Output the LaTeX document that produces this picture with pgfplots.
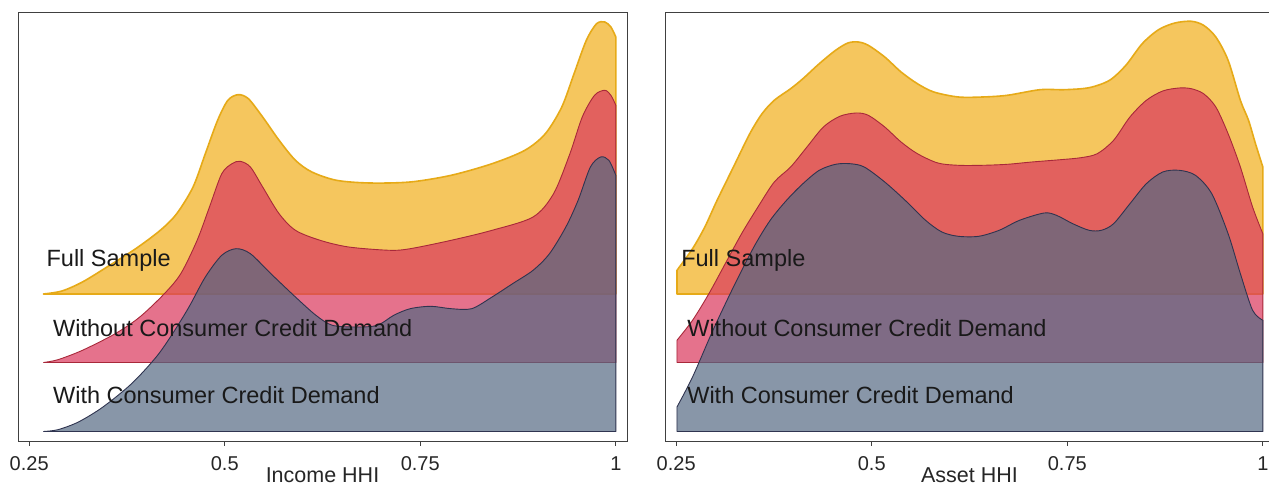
\documentclass[border=0pt]{standalone}
\usepackage{pgfplots}
\pgfplotsset{compat=1.18}
\usepackage{fontspec}
\setmainfont{Liberation Sans}
\definecolor{yfill}{HTML}{F5C65E}
\definecolor{yline}{HTML}{E6AA18}
\definecolor{rfill}{HTML}{DB3B5F}
\definecolor{rline}{HTML}{A8283A}
\definecolor{gfill}{HTML}{556983}
\definecolor{gline}{HTML}{2F3450}
\pgfplotsset{
ridgebox/.style={scale only axis, width=609pt, height=429pt,
  xmin=0.2357, xmax=1.0143, clip=false},
ridgeframe/.style={ridgebox,
  xtick={0.25,0.5,0.75,1}, xticklabels={0.25,0.5,0.75,1},
  ytick=\empty, xtick pos=left, tick align=outside, major tick length=5pt,
  axis line style={black!75, line width=0.8pt},
  every tick/.style={black!75, line width=0.8pt},
  xticklabel style={font=\fontsize{20}{24}\selectfont, text=black!85, anchor=base, inner sep=0pt, yshift=-24.5pt},
  xlabel style={font=\fontsize{21.5}{26}\selectfont, text=black!85, at={(axis description cs:0.5,0)}, anchor=base, inner sep=0pt, yshift=-42pt}},
ridgeover/.style={ridgebox, hide axis},
}
\tikzset{
  yelA/.style={smooth, tension=0.5, fill=yfill, draw=yline, line width=1.6pt, line join=round},
  redA/.style={smooth, tension=0.5, fill=rfill, fill opacity=0.72, draw=rline, draw opacity=1, line width=0.9pt, line join=round},
  gryA/.style={smooth, tension=0.5, fill=gfill, fill opacity=0.70, draw=gline, draw opacity=1, line width=0.9pt, line join=round},
  lab/.style={anchor=base west, inner sep=0pt, font=\fontsize{23.5}{28}\selectfont, text=black!90},
}
\begin{document}
\begin{tikzpicture}
\useasboundingbox (0,0) rectangle (1269pt,486pt);
% ================= left panel: Income HHI =================
% Full Sample (heights above its baseline)
\begin{axis}[ridgeframe, at={(18pt,45pt)}, anchor=south west, ymin=-147, ymax=282, xlabel={Income HHI}]
\addplot[yelA] coordinates {
(0.2683,0) (0.2919,3) (0.3181,12) (0.3495,27) (0.3862,45.3) (0.4176,63.7) (0.4386,80.3)
(0.4595,107) (0.4752,140.3) (0.4909,173.7) (0.5040,193.7) (0.5171,199.3) (0.5302,195.3)
(0.5485,177) (0.5695,153.7) (0.5904,133.7) (0.6114,122) (0.6428,113.7) (0.6847,111)
(0.7371,112) (0.7895,118.7) (0.8418,130.3) (0.8837,143.7) (0.9099,160.3) (0.9309,187)
(0.9466,220.3) (0.9623,253.7) (0.9754,270.3) (0.9859,272) (0.9937,267) (1.0,257)} \closedcycle;
\end{axis}
% Without Consumer Credit Demand
\begin{axis}[ridgeover, at={(18pt,45pt)}, anchor=south west, ymin=-78.5, ymax=350.5]
\addplot[redA] coordinates {
(0.2683,0) (0.2867,2.8) (0.3181,12.2) (0.3600,28.8) (0.3914,45.5) (0.4228,68.8) (0.4438,88.8)
(0.4647,122.2) (0.4805,155.5) (0.4962,188.8) (0.5093,198.8) (0.5197,201.2) (0.5328,195.5)
(0.5485,175.5) (0.5695,148.8) (0.5904,132.2) (0.6219,122.2) (0.6585,115.5) (0.7109,112.2)
(0.7371,113.8) (0.7895,122.2) (0.8418,132.2) (0.8942,145.5) (0.9204,168.8) (0.9413,208.8)
(0.9571,245.5) (0.9728,267.2) (0.9859,272.2) (0.9937,267.2) (1.0,257.2)} \closedcycle;
\end{axis}
% With Consumer Credit Demand
\begin{axis}[ridgeover, at={(18pt,45pt)}, anchor=south west, ymin=-9.5, ymax=419.5]
\addplot[gryA] coordinates {
(0.2683,0) (0.2867,1.8) (0.3129,9.5) (0.3443,24.5) (0.3809,47.8) (0.4124,74.5) (0.4333,97.8)
(0.4543,124.5) (0.4752,154.5) (0.4962,176.2) (0.5145,182.8) (0.5328,177.8) (0.5590,157.8)
(0.5904,134.5) (0.6166,116.2) (0.6376,106.2) (0.6690,104.5) (0.6952,106.2) (0.7161,116.2)
(0.7371,122.8) (0.7633,125.2) (0.7895,122.8) (0.8157,122.8) (0.8418,134.5) (0.8680,147.8)
(0.8942,161.2) (0.9152,177.8) (0.9361,204.5) (0.9518,231.2) (0.9675,264.5) (0.9806,274.5)
(0.9911,271.2) (1.0,256.2)} \closedcycle;
\node[lab] at (axis cs:0.272,164.5) {Full Sample};
\node[lab] at (axis cs:0.2804,94.5) {Without Consumer Credit Demand};
\node[lab] at (axis cs:0.2804,27.5) {With Consumer Credit Demand};
\end{axis}
% ================= right panel: Asset HHI =================
\begin{axis}[ridgeframe, at={(665pt,45pt)}, anchor=south west, ymin=-147, ymax=282, xlabel={Asset HHI}]
\addplot[yelA] coordinates {
(0.251,23.7) (0.2709,45.3) (0.2866,67) (0.3023,93.7) (0.3232,127) (0.3441,160.3) (0.3598,180.3)
(0.3754,193.7) (0.3963,205.3) (0.4120,215.3) (0.4329,230.3) (0.4538,243.7) (0.4695,251)
(0.4826,252) (0.4956,248.7) (0.5166,237) (0.5375,222) (0.5584,210.3) (0.5793,202) (0.6106,197)
(0.6420,197) (0.6734,198.7) (0.7152,204.3) (0.7465,204.3) (0.7779,206.3) (0.8040,213.7)
(0.8249,228.7) (0.8458,250.3) (0.8667,264.3) (0.8876,271) (0.9085,272.7) (0.9242,268.7)
(0.9399,257) (0.9556,233.7) (0.9713,193.7) (0.9817,173.7) (0.9906,150.3) (1.0,127)} \closedcycle;
\end{axis}
\begin{axis}[ridgeover, at={(665pt,45pt)}, anchor=south west, ymin=-78.5, ymax=350.5]
\addplot[redA] coordinates {
(0.251,22.2) (0.2709,42.2) (0.2918,68.8) (0.3127,98.8) (0.3336,128.8) (0.3545,155.5) (0.3754,180.5)
(0.3963,195.5) (0.4172,215.5) (0.4382,235.5) (0.4591,246.2) (0.4800,249.5) (0.4956,247.2)
(0.5166,235.5) (0.5375,220.5) (0.5584,208.8) (0.5845,199.5) (0.6106,197.2) (0.6420,197.2)
(0.6734,198.2) (0.7047,200.5) (0.7413,202.8) (0.7674,204.8) (0.7883,208.8) (0.8092,222.2)
(0.8301,245.5) (0.8511,262.2) (0.8720,271.5) (0.8929,274.5) (0.9085,273.8) (0.9242,268.8)
(0.9399,255.5) (0.9556,228.8) (0.9713,195.5) (0.9869,155.5) (1.0,128.8)} \closedcycle;
\end{axis}
\begin{axis}[ridgeover, at={(665pt,45pt)}, anchor=south west, ymin=-9.5, ymax=419.5]
\addplot[gryA] coordinates {
(0.251,24.5) (0.2709,54.5) (0.2970,101.2) (0.3232,144.5) (0.3493,184.5) (0.3702,211.2)
(0.3911,231.2) (0.4120,247.8) (0.4329,261.2) (0.4538,267.2) (0.4721,267.8) (0.4904,264.5)
(0.5166,249.5) (0.5427,231.2) (0.5688,211.2) (0.5897,199.5) (0.6106,195.2) (0.6368,195.2)
(0.6629,201.2) (0.6890,211.2) (0.7204,218.5) (0.7361,216.2) (0.7570,207.8) (0.7779,201.2)
(0.7936,201.2) (0.8092,207.8) (0.8301,227.8) (0.8511,247.8) (0.8720,259.5) (0.8929,261.2)
(0.9138,256.2) (0.9347,237.8) (0.9556,197.8) (0.9713,157.8) (0.9869,121.2) (1.0,111.2)} \closedcycle;
\node[lab] at (axis cs:0.2563,164.5) {Full Sample};
\node[lab] at (axis cs:0.264,94.5) {Without Consumer Credit Demand};
\node[lab] at (axis cs:0.264,27.5) {With Consumer Credit Demand};
\end{axis}
\end{tikzpicture}
\end{document}
